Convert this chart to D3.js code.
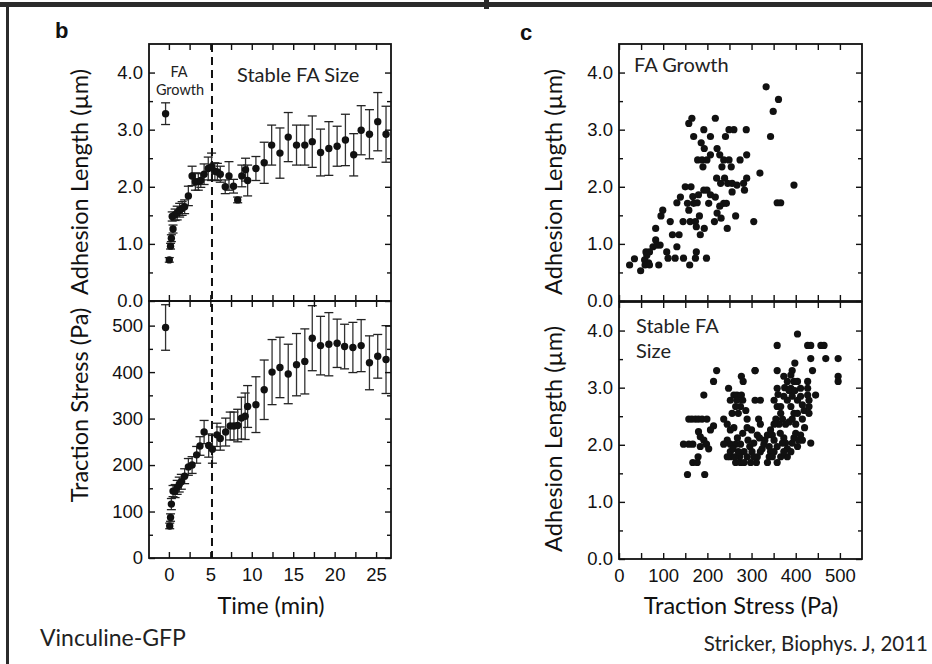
<!DOCTYPE html>
<html>
<head>
<meta charset="utf-8">
<script src="https://cdn.jsdelivr.net/npm/d3@7"></script>
<style>
  body { margin: 0; background: #fff; }
  svg { display: block; }
  .tick-label { font-family: "Liberation Sans", Arial, sans-serif; font-size: 18.5px; fill: #111; }
  .title { font-family: Lato, "Open Sans", sans-serif; font-size: 23.5px; fill: #111; }
  .note { font-family: Lato, "Open Sans", sans-serif; fill: #222; }
  .letter { font-family: "Liberation Sans", Arial, sans-serif; font-weight: bold; font-size: 22px; fill: #111; }
</style>
</head>
<body>
<svg width="932" height="664"></svg>
<script>
// panel b, top: adhesion length vs time
const lenTime = [-0.4, 0.05, 0.2, 0.3, 0.5, 0.4, 0.75, 1.0, 1.3, 1.6, 1.9, 2.35, 2.8, 3.2, 3.55, 3.85, 4.25, 4.75, 5.15, 5.55, 5.85, 6.2, 6.8, 7.25, 7.8, 8.3, 8.8, 9.25, 9.5, 10.5, 11.5, 12.4, 13.4, 14.4, 15.4, 16.4, 17.3, 18.3, 19.3, 20.3, 21.3, 22.3, 23.2, 24.2, 25.2, 26.2];
const lenMean = [3.28, 0.72, 0.96, 1.10, 1.26, 1.48, 1.51, 1.54, 1.59, 1.62, 1.65, 1.84, 2.19, 2.09, 2.09, 2.11, 2.22, 2.32, 2.35, 2.27, 2.26, 2.22, 2.00, 2.19, 2.01, 1.77, 2.19, 2.30, 2.11, 2.32, 2.42, 2.73, 2.59, 2.87, 2.73, 2.73, 2.79, 2.60, 2.67, 2.71, 2.82, 2.56, 2.99, 2.92, 3.14, 2.92];
const lenErr = [0.19, 0.04, 0.05, 0.06, 0.07, 0.08, 0.1, 0.12, 0.12, 0.12, 0.12, 0.17, 0.17, 0.15, 0.15, 0.12, 0.18, 0.2, 0.24, 0.15, 0.15, 0.14, 0.12, 0.25, 0.12, 0.05, 0.19, 0.2, 0.27, 0.21, 0.36, 0.35, 0.44, 0.43, 0.35, 0.35, 0.45, 0.41, 0.47, 0.35, 0.45, 0.37, 0.43, 0.43, 0.51, 0.49];

// panel b, bottom: traction stress vs time
const stressTime = [-0.4, 0.1, 0.2, 0.3, 0.5, 0.75, 1.0, 1.25, 1.5, 1.9, 2.35, 2.8, 3.35, 3.75, 4.25, 4.8, 5.25, 5.8, 6.2, 6.85, 7.4, 7.85, 8.3, 8.75, 9.2, 9.5, 10.5, 11.5, 12.45, 13.4, 14.4, 15.4, 16.4, 17.3, 18.3, 19.3, 20.3, 21.2, 22.2, 23.2, 24.2, 25.2, 26.2];
const stressMean = [496, 69, 87, 116, 144, 144, 152, 158, 164, 176, 196, 200, 222, 241, 271, 242, 234, 265, 257, 271, 284, 284, 285, 301, 305, 326, 330, 362, 400, 410, 396, 416, 423, 473, 457, 460, 462, 455, 453, 457, 420, 434, 427];
const stressErr = [49, 6, 8, 12, 12, 14, 15, 16, 16, 16, 18, 18, 18, 20, 25, 25, 30, 25, 25, 30, 30, 30, 35, 45, 50, 45, 60, 64, 70, 65, 64, 67, 70, 70, 63, 68, 52, 48, 54, 56, 58, 47, 73];

const xTicksTime = [0, 5, 10, 15, 20, 25];
const xMinorTime = [2.5, 7.5, 12.5, 17.5, 22.5];
const lenTicks = [0, 1, 2, 3, 4];
const lenMinor = [0.5, 1.5, 2.5, 3.5];
const stressTicks = [0, 100, 200, 300, 400, 500];
const stressMinor = [50, 150, 250, 350, 450];
const xTicksStress = [0, 100, 200, 300, 400, 500];
const xMinorStress = [50, 150, 250, 350, 450];

// panel c, top: FA growth [stress Pa, length um]
const growthPts = [
  [24,0.63],[35,0.74],[49,0.53],[58,0.72],[61,0.86],[67,0.67],[69,0.86],[63,0.80],[59,0.63],[69,0.63],
  [77,0.95],[83,1.07],[86,0.98],[93,0.98],[90,0.63],[83,1.27],[95,1.49],[99,1.59],
  [108,0.86],[111,0.75],[116,1.39],[121,1.16],[127,0.75],[131,0.95],[136,1.16],[131,1.72],[139,1.82],[145,1.39],[146,0.75],
  [150,2.00],[155,1.71],[158,1.59],[161,1.39],[160,0.63],[163,2.00],[167,1.83],[169,1.71],[173,1.39],[175,1.30],[175,0.86],[173,0.75],
  [177,1.72],[180,1.86],[182,1.49],[184,1.16],[192,1.94],[193,1.27],[198,0.75],[199,1.94],[203,1.71],[207,1.86],
  [218,1.82],[216,1.39],[222,1.54],[228,1.66],[237,1.71],[231,1.45],[245,1.27],[243,1.71],[264,1.49],[305,1.39],
  [158,3.11],[165,3.20],[169,2.88],[186,2.77],[192,3.00],[193,2.67],[207,2.88],[178,2.47],[188,2.47],[190,2.35],[199,2.47],[207,2.56],
  [218,3.20],[222,2.67],[228,2.56],[221,2.15],[230,2.06],[233,2.35],[237,2.47],[241,2.88],[249,3.00],[260,3.00],[249,2.47],[254,2.35],
  [256,1.91],[256,2.06],[267,2.03],[274,2.47],[288,3.00],[289,2.56],[289,2.15],[284,1.94],[282,2.06],[239,2.15],[246,2.06],
  [319,2.24],[333,3.75],[361,3.53],[349,3.32],[343,2.88],[358,1.72],[366,1.72],[396,2.03]
];

// panel c, bottom: stable FA size [stress Pa, length um]
const stablePts = [
  [158,2.45],[165,2.45],[173,2.45],[180,2.45],[188,2.45],[199,2.45],
  [146,2.01],[158,2.01],[167,2.01],[180,2.23],[184,2.14],[192,2.08],[198,2.01],[203,1.93],[184,1.97],
  [179,1.79],[167,1.69],[177,1.69],[155,1.48],[194,1.48],[214,2.33],[207,2.26],[192,2.87],[214,3.11],[221,3.30],
  [237,2.45],[245,2.36],[252,2.26],[260,2.30],[248,2.99],[260,2.87],[267,2.87],[277,2.87],
  [252,2.78],[267,2.78],[280,2.78],[275,2.67],[264,2.67],[270,2.55],[256,2.55],[277,3.20],[281,3.11],[287,2.60],[290,2.45],
  [252,2.01],[264,2.01],[275,2.01],[283,1.88],[273,1.79],[264,1.69],[275,1.69],[283,1.69],[252,1.79],[245,1.79],[252,1.88],
  [292,2.08],[296,1.97],[305,2.03],[301,1.88],[313,2.17],[320,2.36],[316,2.45],[308,2.78],[320,2.78],[308,3.30],
  [313,1.79],[311,1.69],[324,1.93],[328,2.01],[336,2.17],[340,1.97],[343,1.88],[340,1.79],[336,1.69],
  [351,2.78],[358,2.67],[366,2.55],[355,2.45],[362,2.36],[370,2.45],[377,2.36],
  [347,2.17],[351,2.08],[358,1.97],[347,1.79],[358,1.69],[351,1.88],
  [373,2.12],[377,2.03],[381,1.93],[381,1.79],[389,1.88],[392,2.03],[396,2.12],[400,2.20],[404,1.97],[411,2.17],[415,2.08],[407,2.08],
  [381,2.78],[389,2.67],[396,2.55],[404,2.78],[411,2.85],[415,2.70],[419,2.60],
  [373,3.20],[381,3.11],[389,2.99],[396,3.11],[404,3.11],[411,2.99],[434,2.03],
  [358,3.74],[404,3.94],[427,3.74],[434,3.74],[457,3.74],[464,3.74],[434,3.51],[468,3.51],[496,3.51],[496,3.20],[496,3.11],
  [398,3.43],[392,3.30],[389,3.22],[438,3.30],[358,3.30],[308,3.30],
  [358,2.99],[375,3.00],[385,2.95],[427,3.11],[427,2.99],[427,2.87],[430,2.78],[430,2.67],[430,2.55],[445,2.87],
  [262,1.79],[270,1.88],[258,1.93],[290,1.79],[298,1.69],[305,1.79],[320,1.88],[330,2.08],[318,2.12],[300,2.26],
  [290,2.30],[280,2.20],[268,2.12],[245,2.08],[237,2.01],[343,2.26],[351,2.36],[365,2.20],[370,2.03],[385,2.40],
  [392,2.45],[400,2.36],[404,2.55],[392,2.85],[398,2.95],[366,2.67],[373,2.85],[360,2.88],[415,2.45],[420,2.30],
  [366,1.79],[373,1.88]
];

const svg = d3.select("svg");

// scales
const xTime = d3.scaleLinear().domain([-2.4, 26.8]).range([149, 391]);
const yLen = d3.scaleLinear().domain([0, 4.5]).range([301, 44]);
const yStress = d3.scaleLinear().domain([0, 553]).range([558, 301]);
const xStress = d3.scaleLinear().domain([0, 550]).range([619, 862]);
const yLenTop = d3.scaleLinear().domain([0, 4.5]).range([301, 44]);
const yLenBot = d3.scaleLinear().domain([0, 4.5]).range([559, 302]);

function addAxis(axis, tx, ty) {
    let g = svg.append("g").attr("transform", `translate(${tx},${ty})`).call(axis);
    g.select(".domain").remove();
    g.selectAll("line").attr("stroke", "#111").attr("stroke-width", 1.4);
    g.selectAll("text").attr("class", "tick-label");
    return g;
}

function drawBox(x, y, o) {
    const [x0, x1] = x.range();
    const [yb, yt] = y.range();
    const allX = o.xMajor.concat(o.xMinor);
    addAxis(d3.axisBottom(x).tickValues(o.xLabels ? o.xMajor : allX).tickSizeInner(-6).tickSizeOuter(0)
        .tickPadding(10).tickFormat(o.xLabels ? d3.format("d") : ""), 0, yb);
    if (o.xLabels) addAxis(d3.axisBottom(x).tickValues(o.xMinor).tickSizeInner(-6).tickSizeOuter(0).tickFormat(""), 0, yb);
    addAxis(d3.axisTop(x).tickValues(allX).tickSizeInner(-6).tickSizeOuter(0).tickFormat(""), 0, yt);
    addAxis(d3.axisLeft(y).tickValues(o.yMajor).tickSizeInner(-6).tickSizeOuter(0).tickPadding(6).tickFormat(o.yFormat), x0, 0);
    addAxis(d3.axisLeft(y).tickValues(o.yMinor).tickSizeInner(-4).tickSizeOuter(0).tickFormat(""), x0, 0);
    addAxis(d3.axisRight(y).tickValues(o.yMajor).tickSizeInner(-6).tickSizeOuter(0).tickFormat(""), x1, 0);
    addAxis(d3.axisRight(y).tickValues(o.yMinor).tickSizeInner(-4).tickSizeOuter(0).tickFormat(""), x1, 0);
    svg.append("rect")
        .attr("x", x0).attr("y", yt)
        .attr("width", x1 - x0).attr("height", yb - yt)
        .attr("fill", "none").attr("stroke", "#111").attr("stroke-width", 1.8);
}

function drawErrorDots(x, y, ts, means, errs) {
    let g = svg.append("g");
    ts.map((t, i) => {
        const cx = x(t);
        const lo = y(means[i] - errs[i]), hi = y(means[i] + errs[i]);
        g.append("line").attr("x1", cx).attr("x2", cx).attr("y1", lo).attr("y2", hi)
            .attr("stroke", "#333").attr("stroke-width", 1.3);
        [lo, hi].map(v => {
            g.append("line").attr("x1", cx - 4.5).attr("x2", cx + 4.5).attr("y1", v).attr("y2", v)
                .attr("stroke", "#222").attr("stroke-width", 1.3);
        });
    });
    g.selectAll("circle").data(ts).enter().append("circle")
        .attr("cx", d => x(d))
        .attr("cy", (d, i) => y(means[i]))
        .attr("r", 3.7)
        .attr("fill", "#111");
}

function drawScatter(x, y, pts) {
    svg.append("g").selectAll("circle").data(pts).enter().append("circle")
        .attr("cx", d => x(d[0]))
        .attr("cy", d => y(d[1]))
        .attr("r", 3.6)
        .attr("fill", "#111");
}

// outer frame lines
svg.append("rect").attr("x", 0).attr("y", 2).attr("width", 932).attr("height", 5).attr("fill", "#2b2b2b");
svg.append("rect").attr("x", 6).attr("y", 2).attr("width", 3).attr("height", 662).attr("fill", "#2b2b2b");
svg.append("rect").attr("x", 484).attr("y", 0).attr("width", 5).attr("height", 9).attr("fill", "#2b2b2b");

// panel b
drawErrorDots(xTime, yLen, lenTime, lenMean, lenErr);
drawErrorDots(xTime, yStress, stressTime, stressMean, stressErr);
drawBox(xTime, yLen, { xMajor: xTicksTime, xMinor: xMinorTime, xLabels: false, yMajor: lenTicks, yMinor: lenMinor, yFormat: d3.format(".1f") });
drawBox(xTime, yStress, { xMajor: xTicksTime, xMinor: xMinorTime, xLabels: true, yMajor: stressTicks, yMinor: stressMinor, yFormat: d3.format("d") });

svg.append("line")
    .attr("x1", xTime(5.2)).attr("x2", xTime(5.2))
    .attr("y1", yLen.range()[1]).attr("y2", yStress.range()[0])
    .attr("stroke", "#111").attr("stroke-width", 2).attr("stroke-dasharray", "8,5");

// panel c
drawScatter(xStress, yLenTop, growthPts);
drawScatter(xStress, yLenBot, stablePts);
drawBox(xStress, yLenTop, { xMajor: xTicksStress, xMinor: xMinorStress, xLabels: false, yMajor: lenTicks, yMinor: lenMinor, yFormat: d3.format(".1f") });
drawBox(xStress, yLenBot, { xMajor: xTicksStress, xMinor: xMinorStress, xLabels: true, yMajor: lenTicks, yMinor: lenMinor, yFormat: d3.format(".1f") });

// axis titles
function vTitle(txt, x, y) {
    svg.append("text").attr("class", "title")
        .attr("transform", `translate(${x},${y}) rotate(-90)`)
        .attr("text-anchor", "middle").text(txt);
}
vTitle("Adhesion Length (\u00b5m)", 88, 182);
vTitle("Traction Stress (Pa)", 88, 405);
vTitle("Adhesion Length (\u00b5m)", 562, 182);
vTitle("Adhesion Length (\u00b5m)", 562, 439);
svg.append("text").attr("class", "title").attr("x", 271).attr("y", 614).attr("text-anchor", "middle").text("Time (min)");
svg.append("text").attr("class", "title").attr("x", 741).attr("y", 614).attr("text-anchor", "middle").text("Traction Stress (Pa)");

// annotations
svg.append("text").attr("class", "note").attr("x", 179).attr("y", 77).attr("text-anchor", "middle").style("font-size", "14.5px").text("FA");
svg.append("text").attr("class", "note").attr("x", 180).attr("y", 95).attr("text-anchor", "middle").style("font-size", "14.5px").text("Growth");
svg.append("text").attr("class", "note").attr("x", 237).attr("y", 82).style("font-size", "20px").text("Stable FA Size");
svg.append("text").attr("class", "note").attr("x", 634).attr("y", 72).style("font-size", "20px").text("FA Growth");
svg.append("text").attr("class", "note").attr("x", 636).attr("y", 333).style("font-size", "20px").text("Stable FA");
svg.append("text").attr("class", "note").attr("x", 636).attr("y", 358).style("font-size", "20px").text("Size");

svg.append("text").attr("class", "note").attr("x", 40).attr("y", 646).style("font-size", "23px").text("Vinculine-GFP");
svg.append("text").attr("class", "note").attr("x", 928).attr("y", 651).attr("text-anchor", "end").style("font-size", "20.5px").text("Stricker, Biophys. J, 2011");

svg.append("text").attr("class", "letter").attr("x", 55).attr("y", 38).text("b");
svg.append("text").attr("class", "letter").attr("x", 520).attr("y", 40).text("c");
</script>
</body>
</html>
